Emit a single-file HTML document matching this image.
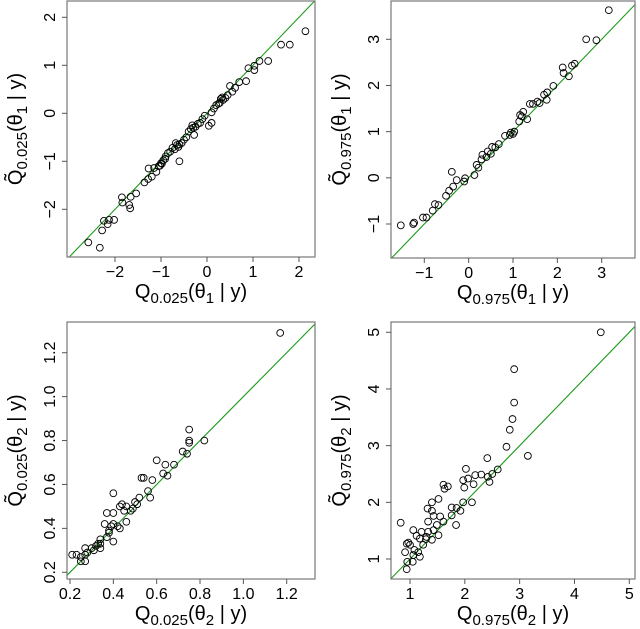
<!DOCTYPE html>
<html><head><meta charset="utf-8"><style>
html,body{margin:0;padding:0;background:#fff;}
svg{display:block;font-family:"Liberation Sans",sans-serif;}
</style></head><body>
<svg id="chart" width="640" height="629" viewBox="0 0 640 629"></svg>
<script>
// Panel 1 data
const p1X=[2.14,1.80,1.61,1.33,1.14,1.03,1.03,0.90,0.85,0.70,0.61,0.50,0.55,0.45,0.40,0.35,0.30,0.28,0.20,0.15,0.10,0.04,0.10,-0.05,-0.10,-0.15,-0.20,-0.25,-0.28,-0.30,-0.35,-0.40,-0.45,-0.50,-0.55,-0.60,-0.62,-0.65,-0.70,-0.75,-0.80,-0.85,-0.90,-0.91,-0.95,-1.00,-1.02,-1.05,-1.10,-1.15,-1.20,-1.27,-0.60,-1.28,-1.36,-1.54,-1.66,-1.69,-1.67,-1.84,-1.85,-2.02,-2.13,-2.24,-2.16,-2.28,-2.58,-2.33,0.33,0.25,-0.32,-0.68,-0.98];
const p1Y=[1.71,1.43,1.43,1.09,1.09,0.99,0.90,0.94,0.67,0.65,0.53,0.57,0.45,0.38,0.32,0.28,0.30,0.22,0.17,0.10,0.02,-0.26,-0.20,-0.05,-0.12,-0.20,-0.22,-0.28,-0.45,-0.30,-0.33,-0.38,-0.50,-0.55,-0.62,-0.65,-0.70,-0.66,-0.75,-0.72,-0.80,-0.83,-0.90,-0.95,-0.98,-1.04,-1.09,-1.10,-1.22,-1.14,-1.32,-1.15,-1.00,-1.37,-1.44,-1.67,-1.74,-1.91,-1.98,-1.86,-1.75,-2.22,-2.22,-2.24,-2.31,-2.44,-2.69,-2.80,0.33,0.20,-0.25,-0.62,-1.05];
// Panel 2 data
const p2X=[3.16,2.65,2.88,2.39,2.33,2.12,2.14,2.26,1.91,1.76,1.70,1.77,1.55,1.38,1.32,1.23,1.16,1.14,0.93,1.03,0.82,0.68,0.53,0.43,0.31,0.29,0.18,0.13,-0.38,-0.08,-0.10,-0.27,-0.35,-0.44,-0.51,-0.68,-0.76,-0.81,-1.03,-0.95,-1.23,-1.25,-1.53,1.45,1.60,1.00,0.60,0.40,0.22,0.50,0.95,1.20];
const p2Y=[3.63,3.00,2.98,2.47,2.43,2.39,2.27,2.20,1.99,1.69,1.80,1.85,1.65,1.60,1.27,1.43,1.36,1.22,0.93,1.00,0.91,0.73,0.67,0.57,0.50,0.40,0.28,0.06,0.13,-0.01,-0.08,-0.05,-0.19,-0.28,-0.39,-0.59,-0.57,-0.71,-0.86,-0.86,-0.97,-1.00,-1.03,1.60,1.62,0.95,0.66,0.45,0.22,0.52,0.98,1.33];
// Panel 3 data
const p3X=[1.17,0.82,0.75,0.75,0.75,0.74,0.72,0.68,0.64,0.60,0.65,0.63,0.58,0.54,0.53,0.56,0.57,0.52,0.50,0.46,0.48,0.44,0.43,0.46,0.40,0.37,0.40,0.36,0.39,0.43,0.40,0.38,0.37,0.34,0.33,0.34,0.32,0.30,0.28,0.27,0.27,0.25,0.23,0.25,0.27,0.31,0.34,0.38,0.40,0.21,0.49,0.51,0.45,0.42];
const p3Y=[1.29,0.80,0.85,0.80,0.79,0.74,0.75,0.69,0.69,0.71,0.64,0.65,0.62,0.63,0.63,0.57,0.54,0.54,0.52,0.50,0.48,0.51,0.50,0.43,0.56,0.47,0.47,0.42,0.41,0.40,0.34,0.38,0.36,0.35,0.33,0.31,0.32,0.31,0.29,0.31,0.28,0.27,0.28,0.25,0.25,0.30,0.33,0.39,0.42,0.28,0.49,0.51,0.48,0.41];
// Panel 4 data
const p4X=[4.48,2.90,2.90,2.87,2.82,2.76,3.15,2.41,2.60,2.02,2.50,2.30,2.19,2.42,2.45,2.06,1.97,2.16,1.99,1.69,1.61,1.63,1.52,1.40,2.13,1.97,1.92,1.85,1.76,1.76,1.84,1.32,1.40,1.43,1.55,1.33,1.61,0.83,1.49,1.43,1.33,1.21,1.06,1.52,1.12,1.18,1.29,1.40,0.97,1.00,0.94,0.91,1.08,1.15,1.06,1.18,0.95,1.05,0.94,1.24,1.30];
const p4Y=[5.00,4.35,3.76,3.47,3.28,2.98,2.82,2.78,2.58,2.59,2.50,2.49,2.48,2.45,2.36,2.42,2.39,2.32,2.26,2.28,2.31,2.24,2.06,2.00,2.00,2.00,1.85,1.90,1.91,1.77,1.60,1.89,1.85,1.76,1.75,1.66,1.66,1.64,1.60,1.51,1.48,1.48,1.51,1.42,1.41,1.36,1.35,1.34,1.29,1.25,1.27,1.12,1.16,1.12,1.07,1.04,0.95,0.95,0.82,1.25,1.39];
// Tick labels
const p1XTicks=[-2,-1,0,1,2], p1YTicks=[-2,-1,0,1,2];
const p2XTicks=[-1,0,1,2,3], p2YTicks=[-1,0,1,2,3];
const p3XTicks=[0.2,0.4,0.6,0.8,1.0,1.2], p3YTicks=[0.2,0.4,0.6,0.8,1.0,1.2];
const p4XTicks=[1,2,3,4,5], p4YTicks=[1,2,3,4,5];

const NS='http://www.w3.org/2000/svg';
const svg=document.getElementById('chart');
function mk(tag,attrs,parent){const e=document.createElementNS(NS,tag);for(const k in attrs)e.setAttribute(k,attrs[k]);(parent||svg).appendChild(e);return e;}

function title(parent,x,y,rot,sub,idx,tilde){
  const t=mk('text',{x:x,y:y,'font-size':20,'text-anchor':'middle',fill:'#000'},parent);
  if(rot)t.setAttribute('transform','rotate(-90 '+x+' '+y+')');
  const q=mk('tspan',{},t);q.textContent=tilde?'Q\u0303':'Q';
  const s=mk('tspan',{'font-size':15,dy:5},t);s.textContent=sub;
  const a=mk('tspan',{dy:-5},t);a.textContent='(\u03b8';
  const b=mk('tspan',{'font-size':15,dy:5},t);b.textContent=idx;
  const c=mk('tspan',{dy:-5},t);c.textContent=' | y)';
  return t;
}

function panel(name,box,xcal,ycal,xs,ys,xt,yt,fmt,sub,idx){
  const g=mk('g',{});
  
  
  const [L,T,R,B]=box;
  const sx=v=>xcal[1]+(v-xcal[0])*(xcal[3]-xcal[1])/(xcal[2]-xcal[0]);
  const sy=v=>ycal[1]+(v-ycal[0])*(ycal[3]-ycal[1])/(ycal[2]-ycal[0]);
  const ix=p=>xcal[0]+(p-xcal[1])*(xcal[2]-xcal[0])/(xcal[3]-xcal[1]);
  const iy=p=>ycal[0]+(p-ycal[1])*(ycal[2]-ycal[0])/(ycal[3]-ycal[1]);
  const lo=Math.max(ix(L),iy(B)), hi=Math.min(ix(R),iy(T));
  const cid=name+'-clip';
  const cp=mk('clipPath',{id:cid},g);mk('rect',{x:L,y:T,width:R-L,height:B-T},cp);
  const ln=mk('line',{x1:sx(lo),y1:sy(lo),x2:sx(hi),y2:sy(hi),stroke:'#1a9a1a','stroke-width':1.1,'clip-path':'url(#'+cid+')'},g);
  
  
  for(let i=0;i<xs.length;i++){
    const c=mk('circle',{cx:sx(xs[i]),cy:sy(ys[i]),r:3.4,fill:'none',stroke:'#000','stroke-width':0.9},g);
    
    
  }
  const bx=mk('rect',{x:L,y:T,width:R-L,height:B-T,fill:'none',stroke:'#777','stroke-width':1.2},g);
  
  
  xt.forEach(v=>{const p=sx(v);
    mk('line',{x1:p,y1:B,x2:p,y2:B+5,stroke:'#555'},g);
    const t=mk('text',{x:p,y:B+20,'font-size':16,'text-anchor':'middle',fill:'#000'},g);
    t.textContent=fmt(v).replace('-','\u2212');
    
    
  });
  yt.forEach(v=>{const p=sy(v);
    mk('line',{x1:L,y1:p,x2:L-5,y2:p,stroke:'#555'},g);
    const xx=L-12;
    const t=mk('text',{x:xx,y:p,'font-size':16,'text-anchor':'middle',fill:'#000',transform:'rotate(-90 '+xx+' '+p+')'},g);
    t.textContent=fmt(v).replace('-','\u2212');
    
    
  });
  const xtl=title(g,(L+R)/2,B+41,false,sub,idx,false);
  
  
  const ytl=title(g,L-45,(T+B)/2,true,sub,idx,true);
  
  
}
const f0=v=>String(v), f1=v=>v.toFixed(1);
panel('panel-q025-theta1',[67,1,315,257],[-2,115,2,299],[2,17.3,-2,209.3],p1X,p1Y,p1XTicks,p1YTicks,f0,'0.025','1');
panel('panel-q975-theta1',[391,1,635,258],[-1,424.3,3,601.7],[3,39.3,-1,224],p2X,p2Y,p2XTicks,p2YTicks,f0,'0.975','1');
panel('panel-q025-theta2',[67,322,315,579],[0.2,70,1.2,286.7],[1.2,352.7,0.2,572.3],p3X,p3Y,p3XTicks,p3YTicks,f1,'0.025','2');
panel('panel-q975-theta2',[391,322,635,579],[1,410,5,629.3],[5,332.3,1,559],p4X,p4Y,p4XTicks,p4YTicks,f0,'0.975','2');
</script>
</body></html>
